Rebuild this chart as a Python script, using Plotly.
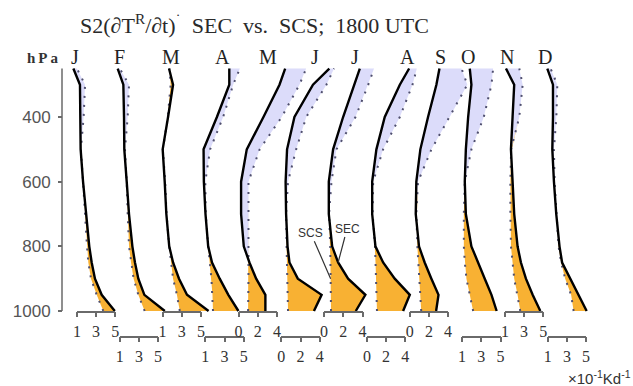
import plotly.graph_objects as go

W, H = 633, 386

# pressure levels (hPa), surface to upper troposphere
levels = [1000, 950, 900, 850, 800, 700, 600, 500, 400, 300, 250]
months = ["J", "F", "M", "A", "M", "J", "J", "A", "S", "O", "N", "D"]

# S2 amplitude of radiative heating (x10^-1 K/day): SEC = solid, SCS = dotted
sec_jan = [4.95, 3.58, 2.88, 2.54, 2.29, 1.95, 1.64, 1.39, 1.39, 1.32, 0.63]
scs_jan = [3.75, 3.06, 2.47, 2.19, 2.05, 1.88, 1.64, 1.42, 1.70, 1.85, 1.00]
sec_feb = [5.70, 3.57, 2.94, 2.59, 2.32, 1.97, 1.73, 1.48, 1.45, 1.38, 0.79]
scs_feb = [3.60, 2.94, 2.45, 2.18, 1.97, 1.83, 1.73, 1.55, 1.83, 1.97, 1.00]
sec_mar = [5.80, 3.55, 2.72, 2.10, 1.70, 1.40, 1.23, 1.02, 1.58, 2.10, 1.68]
scs_mar = [2.80, 2.50, 2.10, 1.92, 1.70, 1.42, 1.28, 1.04, 1.55, 1.85, 1.72]
sec_apr = [4.45, 3.40, 2.50, 1.70, 1.30, 1.02, 0.85, 0.82, 2.21, 3.50, 3.50]
scs_apr = [1.80, 1.75, 1.64, 1.47, 1.30, 1.05, 1.00, 1.50, 2.86, 3.90, 4.60]
sec_may = [2.80, 2.80, 1.84, 1.14, 0.55, 0.27, 0.27, 0.86, 2.60, 4.27, 4.86]
scs_may = [1.00, 1.05, 1.04, 1.04, 1.04, 1.04, 1.04, 2.20, 4.50, 6.35, 7.05]
sec_jun = [3.40, 4.20, 1.72, 0.85, 0.65, 0.50, 0.45, 0.60, 1.37, 3.30, 5.00]
scs_jun = [0.70, 0.68, 0.65, 0.60, 0.55, 0.50, 0.70, 1.55, 2.60, 4.70, 5.50]
sec_jul = [3.30, 4.30, 2.50, 1.46, 0.84, 0.49, 0.49, 0.94, 1.98, 3.13, 3.72]
scs_jul = [0.72, 0.70, 0.68, 0.66, 0.64, 0.52, 0.77, 1.29, 3.27, 4.60, 5.20]
sec_aug = [3.77, 4.47, 2.90, 1.69, 0.89, 0.55, 0.55, 0.99, 1.86, 3.43, 4.40]
scs_aug = [1.05, 1.00, 0.95, 0.90, 0.85, 0.60, 0.65, 1.69, 3.43, 4.75, 5.20]
sec_sep = [2.75, 3.00, 2.26, 1.56, 0.97, 0.63, 0.69, 1.11, 1.91, 2.78, 3.10]
scs_sep = [1.20, 1.10, 1.00, 0.90, 0.80, 0.69, 0.87, 2.26, 4.17, 6.00, 5.40]
sec_oct = [4.60, 4.06, 3.36, 2.67, 1.97, 1.39, 1.28, 1.39, 1.63, 1.97, 1.80]
scs_oct = [2.15, 1.80, 1.45, 1.28, 1.18, 1.18, 1.28, 1.97, 3.26, 4.06, 4.23]
sec_nov = [4.69, 3.89, 3.19, 2.67, 2.32, 1.97, 1.80, 1.63, 1.80, 1.97, 1.11]
scs_nov = [2.60, 2.32, 1.97, 1.80, 1.63, 1.57, 1.57, 1.65, 2.50, 2.85, 2.50]
sec_dec = [5.06, 4.20, 3.40, 2.50, 2.23, 1.89, 1.65, 1.48, 1.55, 1.55, 0.96]
scs_dec = [3.70, 3.44, 2.82, 2.40, 2.13, 1.89, 1.72, 1.65, 1.90, 2.00, 1.30]

# tick values of each month's own horizontal scale
ticks_odd = [1, 3, 5]
ticks_even = [0, 2, 4]
month_ticks = [ticks_odd, ticks_odd, ticks_odd, ticks_odd, ticks_even, ticks_even,
               ticks_even, ticks_even, ticks_even, ticks_odd, ticks_odd, ticks_odd]

sec_all = [sec_jan, sec_feb, sec_mar, sec_apr, sec_may, sec_jun,
           sec_jul, sec_aug, sec_sep, sec_oct, sec_nov, sec_dec]
scs_all = [scs_jan, scs_feb, scs_mar, scs_apr, scs_may, scs_jun,
           scs_jul, scs_aug, scs_sep, scs_oct, scs_nov, scs_dec]

# ---- layout geometry (pixels) ----
ZERO0 = 67.3        # x pixel of value 0 for the first month
STEP = 42.8         # horizontal shift between consecutive months
PX_UNIT = 9.6       # pixels per 0.1 K/day
Y1000 = 311.0       # y pixel of 1000 hPa
PX_HPA = 0.3233     # pixels per hPa
P_BOT, P_TOP = 1012, 238
ROW_Y = [311.5, 336.5]
MONTH_LABEL_X = [75, 120, 171, 222, 268, 315, 355, 407, 440, 468, 507, 545]

ORANGE = "#F8B133"
LAVENDER = "#DCDCFA"
DOTS = "#4f4f6e"
AXIS_GREY = "#6a6a6a"


def ypix(p):
    return Y1000 - (1000 - p) * PX_HPA


def split_regions(p, a, b):
    """Insert crossing points so the fills switch colour exactly where lines cross."""
    pp, aa, bb = [p[0]], [a[0]], [b[0]]
    for i in range(len(p) - 1):
        d0, d1 = a[i] - b[i], a[i + 1] - b[i + 1]
        if d0 * d1 < 0:
            t = d0 / (d0 - d1)
            pc = p[i] + t * (p[i + 1] - p[i])
            ac = a[i] + t * (a[i + 1] - a[i])
            pp.append(pc); aa.append(ac); bb.append(ac)
        pp.append(p[i + 1]); aa.append(a[i + 1]); bb.append(b[i + 1])
    hi = [max(u, v) for u, v in zip(aa, bb)]
    return pp, aa, bb, hi


fig = go.Figure()
layout = dict(
    template="none",
    width=W, height=H, autosize=False,
    margin=dict(l=0, r=0, t=0, b=0, pad=0, autoexpand=False),
    paper_bgcolor="white", plot_bgcolor="rgba(0,0,0,0)",
    showlegend=False,
)

y_dom = [1 - ypix(P_BOT) / H, 1 - ypix(P_TOP) / H]
layout["yaxis"] = dict(
    domain=y_dom, range=[P_BOT, P_TOP], anchor="free", position=62 / W,
    automargin=False, showgrid=False, zeroline=False, showline=False,
    ticks="outside", ticklen=4, tickwidth=1.5, tickcolor=AXIS_GREY,
    tickvals=[400, 600, 800, 1000], ticklabelstandoff=4,
    tickfont=dict(family="Liberation Sans, Arial, sans-serif", size=17, color="#555"),
)

for k in range(12):
    zero = ZERO0 + STEP * k
    xname = "x" if k == 0 else f"x{k + 1}"
    key = "xaxis" if k == 0 else f"xaxis{k + 1}"
    ax = dict(domain=[0, 1], range=[-zero / PX_UNIT, (W - zero) / PX_UNIT],
              visible=False, anchor="y", automargin=False)
    if k > 0:
        ax["overlaying"] = "x"
    layout[key] = ax

    pp, aa, bb, hi = split_regions(levels, sec_all[k], scs_all[k])
    # orange: SEC larger than SCS
    fig.add_trace(go.Scatter(x=hi + bb[::-1], y=pp + pp[::-1], xaxis=xname, yaxis="y",
                             fill="toself", fillcolor=ORANGE, mode="lines",
                             line=dict(width=0, color=ORANGE), hoverinfo="skip"))
    # lavender: SCS larger than SEC
    fig.add_trace(go.Scatter(x=hi + aa[::-1], y=pp + pp[::-1], xaxis=xname, yaxis="y",
                             fill="toself", fillcolor=LAVENDER, mode="lines",
                             line=dict(width=0, color=LAVENDER), hoverinfo="skip"))
    fig.add_trace(go.Scatter(x=scs_all[k], y=levels, xaxis=xname, yaxis="y", mode="lines",
                             line=dict(color=DOTS, width=2, dash="2px,7px"),
                             hoverinfo="skip"))
    fig.add_trace(go.Scatter(x=sec_all[k], y=levels, xaxis=xname, yaxis="y", mode="lines",
                             line=dict(color="black", width=2.4), hoverinfo="skip"))

    # bracket-style scale under each month
    tv = month_ticks[k]
    bkey = f"xaxis{13 + k}"
    bname = f"x{13 + k}"
    row = ROW_Y[k % 2]
    layout[bkey] = dict(
        domain=[(zero + tv[0] * PX_UNIT) / W, (zero + tv[-1] * PX_UNIT) / W],
        range=[tv[0], tv[-1]], anchor="free", position=1 - row / H, automargin=False,
        showline=True, linecolor=AXIS_GREY, linewidth=1.5,
        ticks="outside", ticklen=5, tickwidth=1.5, tickcolor=AXIS_GREY,
        tickvals=tv, ticktext=[str(v) for v in tv], showgrid=False, zeroline=False,
        ticklabelstandoff=1,
        tickfont=dict(family="Liberation Serif, Times New Roman, serif", size=16, color="#333"),
    )
    fig.add_trace(go.Scatter(x=[tv[0], tv[-1]], y=[1000, 1000], xaxis=bname, yaxis="y",
                             mode="lines", line=dict(width=0), opacity=0, hoverinfo="skip"))

fig.update_layout(**layout)

# vertical pressure axis line
fig.add_shape(type="line", xref="paper", yref="y", x0=62 / W, x1=62 / W, y0=250, y1=1000,
              line=dict(color=AXIS_GREY, width=1.5))

serif = "Liberation Serif, Times New Roman, serif"
sans = "Liberation Sans, Arial, sans-serif"

fig.add_annotation(x=78 / W, y=1 - 24 / H, xref="paper", yref="paper", xanchor="left",
                   yanchor="middle", showarrow=False,
                   text="S2(∂T<sup>R</sup>/∂t)<sup>˙</sup>  SEC  vs.  SCS;  1800 UTC",
                   font=dict(family=serif, size=22, color="#2a2a2a"))
fig.add_annotation(x=43 / W, y=1 - 58 / H, xref="paper", yref="paper", showarrow=False,
                   xanchor="center", yanchor="middle",
                   text="<b>h\u2009P\u2009a</b>", font=dict(family=serif, size=15, color="#333"))
for k, m in enumerate(months):
    fig.add_annotation(x=MONTH_LABEL_X[k] / W, y=1 - 57 / H, xref="paper", yref="paper",
                       xanchor="center", yanchor="middle", showarrow=False, text=m,
                       font=dict(family=serif, size=20, color="#222"))

# leader-line labels in the July panel
fig.add_annotation(x=scs_jul[2], y=levels[2], xref="x7", yref="y", text="SCS",
                   showarrow=True, arrowhead=0, arrowwidth=1.2, arrowcolor="#333",
                   ax=-20, ay=-46, font=dict(family=sans, size=12, color="#333"))
fig.add_annotation(x=sec_jul[3], y=levels[3], xref="x7", yref="y", text="SEC",
                   showarrow=True, arrowhead=0, arrowwidth=1.2, arrowcolor="#333",
                   ax=9, ay=-34, font=dict(family=sans, size=12, color="#333"))

fig.add_annotation(x=1.0, y=1 - 377 / H, xref="paper", yref="paper", xanchor="right",
                   yanchor="middle", showarrow=False,
                   text="×10<sup>-1</sup>Kd<sup>-1</sup>",
                   font=dict(family=sans, size=15, color="#333"))

fig.write_html("out.html")
